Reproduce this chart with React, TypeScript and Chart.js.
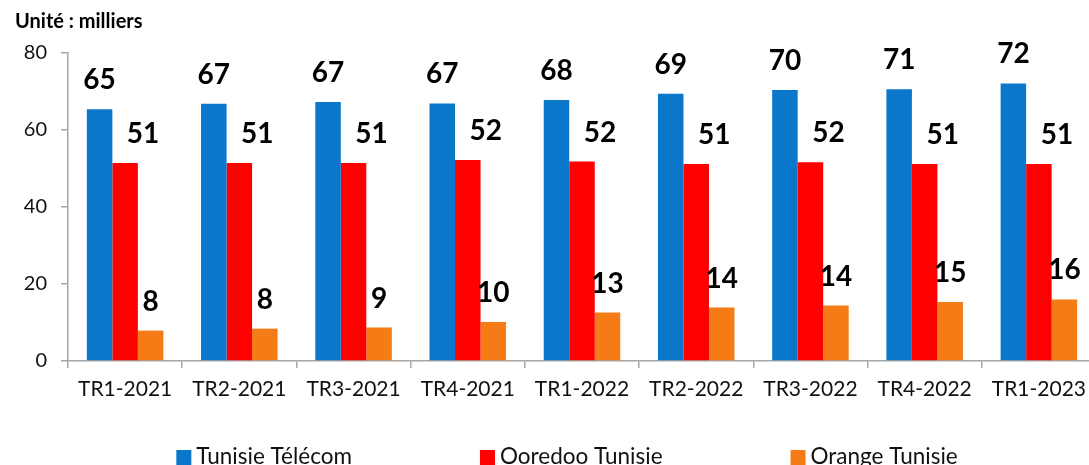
import React, { useEffect, useRef } from 'react';
import { Chart, registerables } from 'chart.js';

Chart.register(...registerables);

const categories = ['TR1-2021', 'TR2-2021', 'TR3-2021', 'TR4-2021', 'TR1-2022', 'TR2-2022', 'TR3-2022', 'TR4-2022', 'TR1-2023'];
const tunisieTelecom = [65.4, 66.8, 67.3, 66.9, 67.8, 69.4, 70.4, 70.6, 72.1];
const ooredooTunisie = [51.4, 51.4, 51.4, 52.2, 51.8, 51.2, 51.6, 51.2, 51.2];
const orangeTunisie = [7.9, 8.4, 8.7, 10.1, 12.6, 13.9, 14.4, 15.3, 16.0];
const seriesNames = ['Tunisie Télécom', 'Ooredoo Tunisie', 'Orange Tunisie'];
const seriesColors = ['#0A77CB', '#FF0000', '#F47B16'];
const yTicks = [0, 20, 40, 60, 80];
const unitLabel = 'Unité : milliers';

const FONT = 'Lato, "Open Sans", sans-serif';

const valueLabels = {
  id: 'valueLabels',
  afterDatasetsDraw(chart: any) {
    const ctx = chart.ctx;
    ctx.save();
    ctx.font = `bold 28px ${FONT}`;
    ctx.fillStyle = '#000000';
    ctx.textAlign = 'center';
    ctx.textBaseline = 'middle';
    chart.data.datasets.forEach((ds: any, di: number) => {
      const meta = chart.getDatasetMeta(di);
      const dx = di === 1 ? 18 : 0;
      meta.data.forEach((bar: any, i: number) => {
        const v = Math.round(ds.data[i]);
        ctx.fillText(String(v), bar.x + dx, bar.y - 29);
      });
    });
    ctx.restore();
  },
};

const customLegend = {
  id: 'customLegend',
  afterDraw(chart: any) {
    const ctx = chart.ctx;
    const area = chart.chartArea;
    ctx.save();
    ctx.font = `22.5px ${FONT}`;
    ctx.textBaseline = 'middle';
    ctx.textAlign = 'left';
    const box = 15;
    const gapText = 5;
    const gap = 128;
    const widths = chart.data.datasets.map((ds: any) => box + gapText + ctx.measureText(ds.label).width);
    const total = widths.reduce((a: number, b: number) => a + b, 0) + gap * (widths.length - 1);
    const cx = (area.left + area.right) / 2 - 15;
    let x = cx - total / 2;
    const y = 457;
    chart.data.datasets.forEach((ds: any, i: number) => {
      ctx.fillStyle = ds.backgroundColor;
      ctx.fillRect(x, y - 7, box, box);
      ctx.fillStyle = '#111111';
      ctx.fillText(ds.label, x + box + gapText, y);
      x += widths[i] + gap;
    });
    ctx.restore();
  },
};

export default function App() {
  const canvasRef = useRef<HTMLCanvasElement | null>(null);

  useEffect(() => {
    if (!canvasRef.current) return;
    const chart = new Chart(canvasRef.current, {
      type: 'bar',
      data: {
        labels: categories,
        datasets: [
          { label: seriesNames[0], data: tunisieTelecom, backgroundColor: seriesColors[0] },
          { label: seriesNames[1], data: ooredooTunisie, backgroundColor: seriesColors[1] },
          { label: seriesNames[2], data: orangeTunisie, backgroundColor: seriesColors[2] },
        ],
      },
      options: {
        responsive: false,
        animation: false,
        datasets: { bar: { categoryPercentage: 0.67, barPercentage: 1.0 } },
        layout: { padding: { left: 15, right: 4, top: 0, bottom: 75 } },
        plugins: {
          legend: { display: false },
          tooltip: { enabled: false },
          title: {
            display: true,
            text: unitLabel,
            align: 'start',
            color: '#000000',
            font: { family: FONT, size: 20, weight: 'bold', lineHeight: 1.2 },
            padding: { top: 10, bottom: 19 },
          },
        },
        scales: {
          x: {
            grid: {
              display: true,
              drawOnChartArea: false,
              drawTicks: true,
              tickLength: 7,
              color: '#A6A6A6',
              lineWidth: 1.5,
              offset: true,
            },
            border: { display: true, color: '#A6A6A6', width: 1.5 },
            ticks: { color: '#111111', font: { family: FONT, size: 21 }, padding: 9, maxRotation: 0, autoSkip: false },
            afterFit: (s: any) => { s.height = 44; },
          },
          y: {
            min: 0,
            max: 80,
            afterBuildTicks: (s: any) => { s.ticks = yTicks.map((v) => ({ value: v })); },
            grid: {
              display: true,
              drawOnChartArea: false,
              drawTicks: true,
              tickLength: 7,
              color: '#A6A6A6',
              lineWidth: 1.5,
            },
            border: { display: true, color: '#A6A6A6', width: 1.5 },
            ticks: { color: '#111111', font: { family: FONT, size: 20 }, padding: 14 },
            afterFit: (s: any) => { s.width = 53; },
          },
        },
      },
      plugins: [valueLabels, customLegend],
    });
    return () => chart.destroy();
  }, []);

  return (
    <div style={{ position: 'fixed', left: 0, top: 0, width: '1089px', height: '465px', overflow: 'hidden', background: '#ffffff' }}>
      <canvas ref={canvasRef} width={1100} height={480} style={{ display: 'block' }} />
    </div>
  );
}
